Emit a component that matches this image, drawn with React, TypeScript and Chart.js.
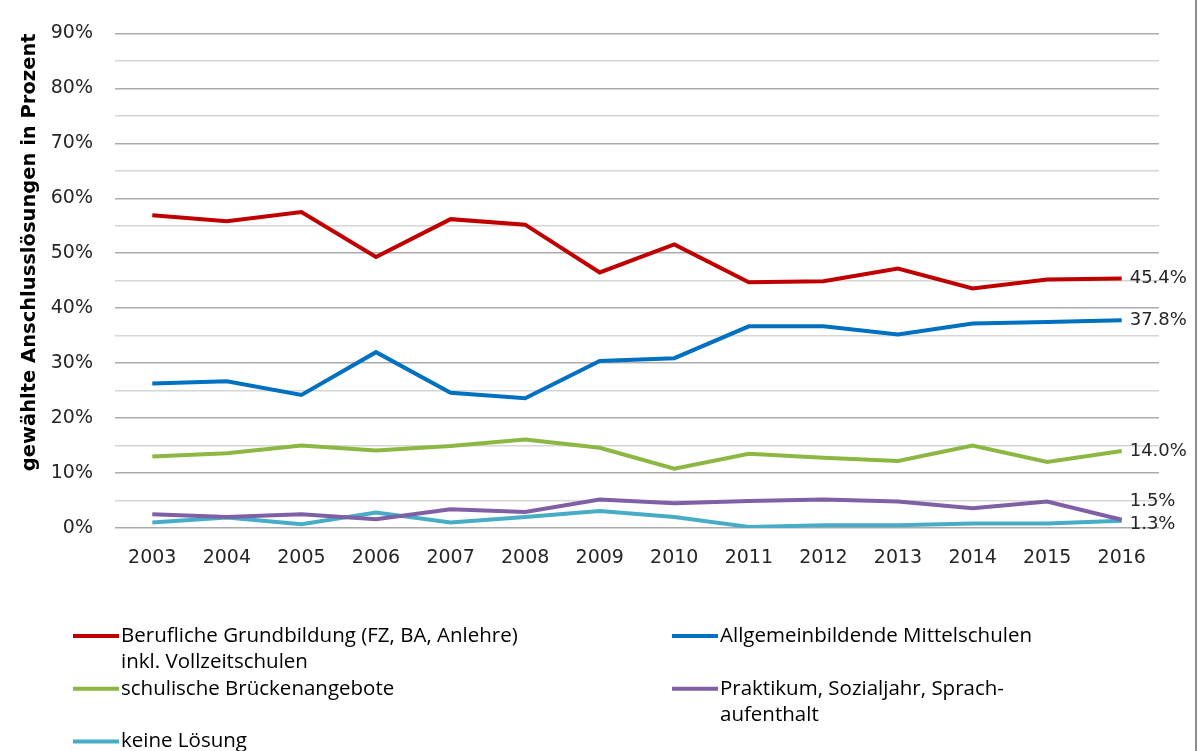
import { useEffect, useRef } from "react";
import { Chart, registerables } from "chart.js";

Chart.register(...registerables);

// Jahre der Schulabgänger
const YEARS = ["2003", "2004", "2005", "2006", "2007", "2008", "2009", "2010", "2011", "2012", "2013", "2014", "2015", "2016"];

// Anteile der gewählten Anschlusslösungen in Prozent
const BERUFLICHE_GRUNDBILDUNG = [56.9, 55.8, 57.5, 49.3, 56.2, 55.2, 46.5, 51.6, 44.7, 44.9, 47.2, 43.6, 45.2, 45.4];
const MITTELSCHULEN = [26.3, 26.7, 24.2, 32.0, 24.6, 23.6, 30.4, 30.9, 36.7, 36.7, 35.2, 37.2, 37.5, 37.8];
const BRUECKENANGEBOTE = [13.0, 13.6, 15.0, 14.1, 14.9, 16.1, 14.6, 10.8, 13.5, 12.8, 12.2, 15.0, 12.0, 14.0];
const PRAKTIKUM = [2.5, 2.0, 2.5, 1.6, 3.4, 2.9, 5.2, 4.5, 4.9, 5.2, 4.8, 3.6, 4.8, 1.5];
const KEINE_LOESUNG = [1.0, 1.9, 0.7, 2.8, 1.0, 2.0, 3.1, 2.0, 0.2, 0.5, 0.5, 0.8, 0.8, 1.3];

const SERIES_LABELS = [
  "Berufliche Grundbildung (FZ, BA, Anlehre)\ninkl. Vollzeitschulen",
  "Allgemeinbildende Mittelschulen",
  "schulische Brückenangebote",
  "Praktikum, Sozialjahr, Sprach-\naufenthalt",
  "keine Lösung",
];
const SERIES_COLORS = ["#C00000", "#0070C0", "#8DB743", "#7F5FA6", "#47ADC7"];
const Y_TITLE = "gewählte Anschlusslösungen in Prozent";

const TICK_FONT = { family: "'DejaVu Sans', Verdana, sans-serif", size: 19 };
const LEGEND_FONT = "20.5px 'Open Sans', sans-serif";

// Wert am Ende jeder Linie, rechts neben dem letzten Punkt
const endLabels = {
  id: "endLabels",
  afterDatasetsDraw(chart: any, _args: any, opts: any) {
    const { ctx } = chart;
    const shift: number[] = opts.shift || [];
    ctx.save();
    ctx.font = "18px 'DejaVu Sans', Verdana, sans-serif";
    ctx.fillStyle = "#262626";
    ctx.textAlign = "left";
    ctx.textBaseline = "middle";
    chart.data.datasets.forEach((ds: any, i: number) => {
      const meta = chart.getDatasetMeta(i);
      const last = meta.data[meta.data.length - 1];
      const v = ds.data[ds.data.length - 1];
      ctx.fillText(v.toFixed(1) + "%", last.x + 8, last.y + (shift[i] || 0));
    });
    ctx.restore();
  },
};

// Legende in zwei Spalten unterhalb der Grafik, mit mehrzeiligen Einträgen
const columnLegend = {
  id: "columnLegend",
  afterDraw(chart: any, _args: any, opts: any) {
    const { ctx } = chart;
    const cols: number[] = opts.columns;
    const lineH: number = opts.lineHeight;
    let rowY: number = opts.top;
    ctx.save();
    ctx.font = LEGEND_FONT;
    ctx.textBaseline = "middle";
    ctx.textAlign = "left";
    const items = chart.data.datasets.map((ds: any) => ({ lines: String(ds.label).split("\n"), color: ds.borderColor }));
    for (let i = 0; i < items.length; i += cols.length) {
      let rowLines = 1;
      for (let c = 0; c < cols.length && i + c < items.length; c++) {
        const it = items[i + c];
        const x = cols[c];
        ctx.strokeStyle = it.color;
        ctx.lineWidth = 4;
        ctx.beginPath();
        ctx.moveTo(x, rowY);
        ctx.lineTo(x + 46, rowY);
        ctx.stroke();
        ctx.fillStyle = "#000000";
        it.lines.forEach((t: string, k: number) => ctx.fillText(t, x + 48, rowY + k * lineH));
        rowLines = Math.max(rowLines, it.lines.length);
      }
      rowY += rowLines * lineH;
    }
    // Rahmenlinie rechts
    ctx.fillStyle = "#8C8C8C";
    ctx.fillRect(chart.width - 5, 0, 2, chart.height);
    ctx.restore();
  },
};

export default function App() {
  const canvasRef = useRef<HTMLCanvasElement | null>(null);

  useEffect(() => {
    if (!canvasRef.current) return;
    const seriesValues = [BERUFLICHE_GRUNDBILDUNG, MITTELSCHULEN, BRUECKENANGEBOTE, PRAKTIKUM, KEINE_LOESUNG];
    const chart = new Chart(canvasRef.current, {
      type: "line",
      data: {
        labels: YEARS,
        datasets: seriesValues.map((vals, i) => ({
          label: SERIES_LABELS[i],
          data: vals,
          borderColor: SERIES_COLORS[i],
          backgroundColor: SERIES_COLORS[i],
          borderWidth: 4,
          pointRadius: 0,
          tension: 0,
          fill: false,
        })),
      },
      plugins: [endLabels, columnLegend],
      options: {
        animation: false,
        responsive: true,
        maintainAspectRatio: false,
        layout: { padding: { left: 0, top: 30, right: 41, bottom: 0 } },
        plugins: {
          legend: { display: false },
          tooltip: { enabled: false },
          endLabels: { shift: [0, 0, 0, -18, 3] },
          columnLegend: { columns: [73, 672], top: 636, lineHeight: 26.4 },
        } as any,
        scales: {
          x: {
            offset: true,
            grid: { display: false, drawTicks: false },
            border: { display: false },
            ticks: { color: "#262626", font: TICK_FONT, padding: 19, maxRotation: 0 },
            afterFit: (s: any) => {
              s.height = 223;
            },
          },
          y: {
            min: 0,
            max: 90,
            border: { display: false },
            grid: {
              drawTicks: false,
              lineWidth: 1.5,
              color: (c: any) => (c.tick && c.tick.value % 10 === 0 ? "#ABABAB" : "#D6D6D6"),
            },
            ticks: {
              stepSize: 5,
              padding: 22,
              color: "#262626",
              font: TICK_FONT,
              callback: (v: any) => (Number(v) % 10 === 0 ? v + "%" : ""),
            },
            title: {
              display: true,
              text: Y_TITLE,
              align: "end",
              color: "#000000",
              font: { family: "'DejaVu Sans', Verdana, sans-serif", size: 19.5, weight: "bold" },
              padding: { top: 18, bottom: 0 },
            },
            afterFit: (s: any) => {
              s.width = 115;
            },
          },
        },
      },
    });
    return () => chart.destroy();
  }, []);

  return (
    <div style={{ position: "absolute", left: 0, top: 0, width: 1200, height: 751, background: "#ffffff" }}>
      <canvas ref={canvasRef} />
    </div>
  );
}
